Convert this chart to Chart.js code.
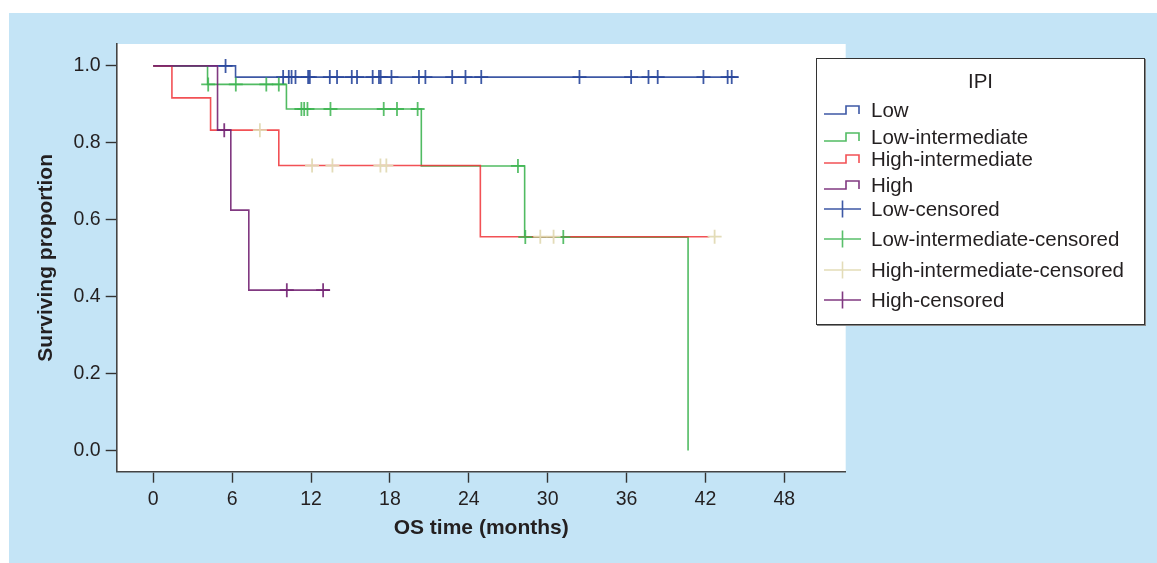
<!DOCTYPE html>
<html lang="en">
<head>
<meta charset="UTF-8">
<title>OS by IPI</title>
<script src="https://cdn.jsdelivr.net/npm/chart.js@4"></script>
<style>
  html, body { margin: 0; padding: 0; background: #fff; }
  body { width: 1157px; height: 563px; position: relative; overflow: hidden;
         font-family: "Liberation Sans", Arial, sans-serif; color: #231f20; }
  .panel { position: absolute; left: 9px; top: 13px; right: 0; bottom: 0; background: #c4e4f6; }
  #chart { position: absolute; left: 0; top: 0; }
  .legend { position: absolute; left: 816px; top: 58px; width: 327px; height: 265px;
            background: #fff; border: 1.5px solid #333; box-shadow: 1px 1px 0 #888; }
  .legend .title { position: absolute; left: 0; right: 0; top: 10px; height: 24px; line-height: 24px;
                   text-align: center; font-size: 20.5px; }
  .legend .row { position: absolute; left: 5px; height: 24px; line-height: 24px; font-size: 20.5px;
                 display: flex; align-items: center; white-space: nowrap; }
  .legend .row svg { width: 40px; height: 24px; margin-right: 9px; flex: none; }
</style>
</head>
<body>
<div class="panel"></div>
<canvas id="chart" width="1157" height="563"></canvas>
<div class="legend" id="legend"><div class="title">IPI</div></div>

<script>
// axis ticks
const xTickValues = [0, 6, 12, 18, 24, 30, 36, 42, 48];
const yTickValues = [0, 0.2, 0.4, 0.6, 0.8, 1.0];

// Kaplan-Meier steps: time (months) and surviving proportion after each step
const lowTimes = [0, 6.26, 44.5];
const lowSurv = [1, 0.971, 0.971];
const lowIntTimes = [0, 4.13, 10.13, 20.39, 28.25, 40.68];
const lowIntSurv = [1, 0.952, 0.888, 0.740, 0.555, 0];
const highIntTimes = [0, 1.42, 4.36, 9.55, 24.88, 42.3];
const highIntSurv = [1, 0.917, 0.833, 0.741, 0.556, 0.556];
const highTimes = [0, 4.89, 5.9, 7.27, 13.43];
const highSurv = [1, 0.833, 0.625, 0.417, 0.417];

// censored times (months)
const lowCensor = [5.5, 9.88, 10.31, 10.52, 10.82, 11.78, 11.91, 13.43, 13.98, 15.1, 15.5, 16.69,
  17.17, 17.3, 18.12, 20.21, 20.7, 22.74, 23.75, 24.95, 32.42, 36.35, 37.67, 38.37, 41.85, 43.69, 44.0];
const lowIntCensor = [4.18, 6.28, 8.6, 9.55, 11.27, 11.48, 11.73, 13.48, 17.53, 18.54, 20.11, 27.74, 28.3, 31.19];
const highIntCensor = [8.11, 12.08, 13.63, 17.28, 17.73, 29.44, 30.45, 42.7];
const highCensor = [5.4, 10.16, 12.92];

const groupNames = ['Low', 'Low-intermediate', 'High-intermediate', 'High'];
const lineColors = ['rgba(40,70,155,0.9)', 'rgba(50,175,70,0.85)', 'rgba(240,50,55,0.85)', 'rgba(115,35,115,0.9)'];
const censorColors = ['rgba(40,70,155,0.9)', 'rgba(60,180,80,0.85)', 'rgba(225,218,180,0.95)', 'rgba(115,35,115,0.9)'];

const stepTimes = [lowTimes, lowIntTimes, highIntTimes, highTimes];
const stepSurv = [lowSurv, lowIntSurv, highIntSurv, highSurv];
const censorTimes = [lowCensor, lowIntCensor, highIntCensor, highCensor];

function survAt(times, surv, t) {
    let s = surv[0];
    for (let i = 0; i < times.length; i++) {
        if (times[i] <= t) s = surv[i];
    }
    return s;
}

const datasets = [];
groupNames.forEach((name, g) => {
    datasets.push({
        label: name,
        data: stepTimes[g].map((t, i) => ({ x: t, y: stepSurv[g][i] })),
        borderColor: lineColors[g],
        borderWidth: 1.6,
        stepped: 'before',
        pointRadius: 0,
        fill: false,
        order: 8 - g
    });
});
groupNames.forEach((name, g) => {
    datasets.push({
        label: name + '-censored',
        data: censorTimes[g].map(t => ({ x: t, y: survAt(stepTimes[g], stepSurv[g], t) })),
        showLine: false,
        pointStyle: 'cross',
        pointRadius: 7,
        pointBorderWidth: 1.8,
        borderColor: censorColors[g],
        backgroundColor: censorColors[g],
        order: 4 - g
    });
});

// white plot background
const plotBackground = {
    id: 'plotBackground',
    beforeDraw(chart) {
        const { ctx, chartArea: a } = chart;
        ctx.save();
        ctx.fillStyle = '#fff';
        ctx.fillRect(a.left, a.top, a.right - a.left, a.bottom - a.top);
        ctx.restore();
    }
};

const tickFont = { family: '"Liberation Sans", Arial, sans-serif', size: 19.5 };
const titleFont = { family: '"Liberation Sans", Arial, sans-serif', size: 21, weight: 'bold' };

new Chart(document.getElementById('chart'), {
    type: 'line',
    data: { datasets },
    plugins: [plotBackground],
    options: {
        responsive: false,
        animation: false,
        devicePixelRatio: 1,
        layout: { padding: { left: 30, top: 44, right: 311.3, bottom: 18 } },
        plugins: { legend: { display: false }, tooltip: { enabled: false } },
        scales: {
            x: {
                type: 'linear',
                min: -2.78,
                max: 52.67,
                afterFit(scale) { scale.height = 563 - 18 - 471.7; },
                afterBuildTicks(scale) { scale.ticks = xTickValues.map(v => ({ value: v })); },
                border: { color: '#444', width: 1.6 },
                grid: { drawOnChartArea: false, tickLength: 11, tickColor: '#333', tickWidth: 1.4 },
                ticks: { font: tickFont, color: '#231f20', padding: 5, maxRotation: 0 },
                title: { display: true, text: 'OS time (months)', font: titleFont, color: '#231f20' }
            },
            y: {
                min: -0.055,
                max: 1.057,
                afterFit(scale) { scale.width = 116.7 - 30; },
                afterBuildTicks(scale) { scale.ticks = yTickValues.map(v => ({ value: v })); },
                border: { color: '#444', width: 1.6 },
                grid: { drawOnChartArea: false, tickLength: 11, tickColor: '#333', tickWidth: 1.4 },
                ticks: { font: tickFont, color: '#231f20', padding: 5, callback: v => v.toFixed(1) },
                title: { display: true, text: 'Surviving proportion', font: titleFont, color: '#231f20' }
            }
        }
    }
});

// legend (HTML)
const legendRowCenters = [52.8, 79, 101, 127, 151, 181, 212.5, 242.5];
const legendEl = document.getElementById('legend');
const legendItems = groupNames.map((n, g) => ({ text: n, color: lineColors[g], kind: 'step' }))
    .concat(groupNames.map((n, g) => ({ text: n + '-censored', color: censorColors[g], kind: 'cross' })));
legendItems.forEach((item, i) => {
    const row = document.createElement('div');
    row.className = 'row';
    row.style.top = (legendRowCenters[i] - 12 - 1.5) + 'px';
    const path = item.kind === 'step'
        ? 'M2 16 H24 V8 H37 V16'
        : 'M2 12 H39 M20.5 3.5 V20.5';
    row.innerHTML = '<svg viewBox="0 0 40 24"><path d="' + path + '" fill="none" stroke="' + item.color +
        '" stroke-width="1.6"/></svg><span></span>';
    row.querySelector('span').textContent = item.text;
    legendEl.appendChild(row);
});
</script>
</body>
</html>
